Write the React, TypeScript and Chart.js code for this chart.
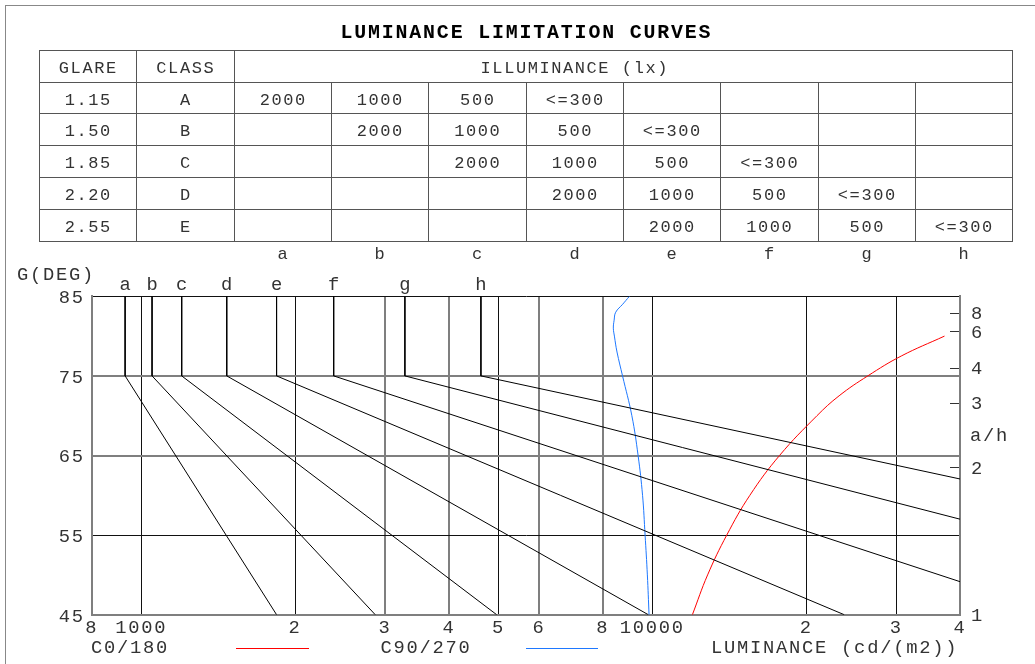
import { useEffect, useRef } from "react";
import { Chart, registerables } from "chart.js";

Chart.register(...registerables);

const FONT_FAMILY = "'Liberation Mono', 'DejaVu Sans Mono', monospace";

// ---------- table data ----------
const glareValues = ["1.15", "1.50", "1.85", "2.20", "2.55"];
const classNames = ["A", "B", "C", "D", "E"];
const illuminanceRows = [
  ["2000", "1000", "500", "<=300", "", "", "", ""],
  ["", "2000", "1000", "500", "<=300", "", "", ""],
  ["", "", "2000", "1000", "500", "<=300", "", ""],
  ["", "", "", "2000", "1000", "500", "<=300", ""],
  ["", "", "", "", "2000", "1000", "500", "<=300"],
];
const curveLetters = ["a", "b", "c", "d", "e", "f", "g", "h"];

// ---------- limitation curves (luminance cd/m2, gamma deg) ----------
const curveTopDeg = 85;
const curveKneeDeg = 75;
const curveKneeLum = [930, 1050, 1200, 1470, 1840, 2380, 3280, 4620];
const curveEndLum = [1840, 2870, 4960, 9820, 23740, 40000, 40000, 40000];
const curveEndDeg = [45, 45, 45, 45, 45, 49.15, 57.0, 62.05];

// ---------- luminaire luminance curves ----------
const c0Deg = [45, 50, 55, 60, 65, 70, 72.5, 75, 77.5, 80];
const c0Lum = [11980, 12830, 13985, 15520, 17740, 21000, 23200, 26400, 30700, 37300];
const c90Deg = [45, 50, 55, 60, 65, 70, 75, 78, 80, 81, 82, 83, 84, 85];
const c90Lum = [9855, 9780, 9680, 9570, 9380, 9120, 8745, 8530, 8430, 8390, 8420, 8480, 8750, 9020];

// ---------- axes ----------
const xTickValues = [800, 1000, 2000, 3000, 4000, 5000, 6000, 8000, 10000, 20000, 30000, 40000];
const xTickLabels = ["8", "1000", "2", "3", "4", "5", "6", "8", "10000", "2", "3", "4"];
const yTickValues = [45, 55, 65, 75, 85];
const ahTickValues = [1, 2, 3, 4, 6, 8];
const ahTickLabels = ["1", "2", "3", "4", "6", "8"];

// style helpers
const AX_SIZE = 18.8;
const AX_LS = 1.74;
const TB_SIZE = 17;
const TB_LS = 1.57;
const TEXT = "#333";
const LINE = "#555";
const SOFT = "#7f7f7f";
const softX = new Set([800, 3000, 4000, 6000, 8000, 40000]);
const softY = new Set([45, 65, 75]);

const decorPlugin = {
  id: "decor",
  beforeDraw(chart: any) {
    (chart.ctx as any).letterSpacing = AX_LS + "px";
  },
  afterDraw(chart: any) {
    const ctx = chart.ctx as CanvasRenderingContext2D;
    const xs = chart.scales.x;
    ctx.save();
    (ctx as any).letterSpacing = AX_LS + "px";
    ctx.font = `${AX_SIZE}px ${FONT_FAMILY}`;
    ctx.fillStyle = TEXT;
    ctx.textAlign = "left";
    ctx.textBaseline = "middle";
    ctx.fillText("G(DEG)", 17, 275);
    ctx.fillText("a/h", 970, 436.5);
    ctx.fillText("C0/180", 91, 648.3);
    ctx.fillText("C90/270", 380.5, 648.3);
    ctx.fillText("LUMINANCE (cd/(m2))", 711, 648.3);
    ctx.textAlign = "center";
    ctx.textBaseline = "alphabetic";
    curveLetters.forEach((l, i) => {
      ctx.fillText(l, xs.getPixelForValue(curveKneeLum[i]) + AX_LS / 2, 290);
    });
    ctx.lineWidth = 1;
    ctx.strokeStyle = "#ff0000";
    ctx.beginPath();
    ctx.moveTo(236, 648.5);
    ctx.lineTo(309, 648.5);
    ctx.stroke();
    ctx.strokeStyle = "rgb(30,120,255)";
    ctx.beginPath();
    ctx.moveTo(526, 648.5);
    ctx.lineTo(598, 648.5);
    ctx.stroke();
    ctx.restore();
  },
};

function buildConfig(): any {
  const datasets: any[] = curveLetters.map((l, i) => ({
    label: l,
    data: [
      { x: curveKneeLum[i], y: curveTopDeg },
      { x: curveKneeLum[i], y: curveKneeDeg },
      { x: curveEndLum[i], y: curveEndDeg[i] },
    ],
    showLine: true,
    borderColor: "#000",
    borderWidth: 1,
    pointRadius: 0,
    tension: 0,
    xAxisID: "x",
    yAxisID: "y",
  }));
  datasets.push({
    label: "C0/180",
    data: c0Deg.map((g, i) => ({ x: c0Lum[i], y: g })),
    showLine: true,
    borderColor: "#ff0000",
    borderWidth: 1,
    pointRadius: 0,
    tension: 0.4,
    xAxisID: "x",
    yAxisID: "y",
  });
  datasets.push({
    label: "C90/270",
    data: c90Deg.map((g, i) => ({ x: c90Lum[i], y: g })),
    showLine: true,
    borderColor: "rgb(30,120,255)",
    borderWidth: 1,
    pointRadius: 0,
    tension: 0.4,
    xAxisID: "x",
    yAxisID: "y",
  });

  const tickFont = { family: FONT_FAMILY, size: AX_SIZE, lineHeight: 1 };

  return {
    type: "scatter",
    data: { datasets },
    options: {
      animation: false,
      responsive: false,
      devicePixelRatio: 1,
      events: [],
      layout: { padding: { top: 296.3, left: 0, right: 0, bottom: 0 } },
      plugins: {
        legend: { display: false },
        tooltip: { enabled: false },
        title: { display: false },
      },
      scales: {
        x: {
          type: "logarithmic",
          position: "bottom",
          min: 800,
          max: 40000,
          afterBuildTicks: (s: any) => {
            s.ticks = xTickValues.map((v) => ({ value: v }));
          },
          afterFit: (s: any) => {
            s.height = 49.3;
          },
          ticks: {
            autoSkip: false,
            maxRotation: 0,
            minRotation: 0,
            padding: 4,
            color: TEXT,
            font: tickFont,
            callback: (_v: any, i: number) => xTickLabels[i],
          },
          grid: {
            color: (c: any) => (softX.has(c.tick?.value) ? SOFT : "#111"),
            lineWidth: (c: any) => (softX.has(c.tick?.value) ? 2 : 1),
            drawTicks: false,
          },
          border: { display: true, color: SOFT, width: 2 },
        },
        y: {
          type: "linear",
          position: "left",
          min: 45,
          max: 85,
          afterBuildTicks: (s: any) => {
            s.ticks = yTickValues.map((v) => ({ value: v }));
          },
          afterFit: (s: any) => {
            s.width = 91.7;
          },
          ticks: {
            autoSkip: false,
            padding: 7,
            labelOffset: 2,
            color: TEXT,
            font: tickFont,
          },
          grid: {
            color: (c: any) => (softY.has(c.tick?.value) ? SOFT : "#111"),
            lineWidth: (c: any) => (softY.has(c.tick?.value) ? 2 : 1),
            drawTicks: false,
          },
          border: { display: true, color: SOFT, width: 2 },
        },
        y2: {
          type: "linear",
          position: "right",
          min: 45,
          max: 85,
          afterBuildTicks: (s: any) => {
            s.ticks = ahTickValues.map((v) => ({ value: (Math.atan(v) * 180) / Math.PI }));
          },
          afterFit: (s: any) => {
            s.width = 75;
          },
          ticks: {
            autoSkip: false,
            padding: 21,
            labelOffset: 1,
            color: TEXT,
            font: tickFont,
            callback: (_v: any, i: number) => ahTickLabels[i],
          },
          grid: {
            drawOnChartArea: false,
            drawTicks: true,
            tickLength: -10,
            color: "#333",
            lineWidth: 1,
          },
          border: { display: true, color: SOFT, width: 2 },
        },
      },
    },
    plugins: [decorPlugin],
  };
}

const COLS = [39, 136, 234, 331, 428, 526, 623, 720, 818, 915, 1012];
const ROWS = [50, 82, 113, 145, 177, 209, 241];

function Cell(props: { x0: number; x1: number; r: number; text: string; key?: any }) {
  const top = ROWS[props.r];
  const h = ROWS[props.r + 1] - top;
  return (
    <div
      style={{
        position: "absolute",
        left: props.x0,
        width: props.x1 - props.x0,
        top: top + 3,
        height: h,
        lineHeight: `${h}px`,
        textAlign: "center",
        whiteSpace: "pre",
        fontSize: TB_SIZE,
        letterSpacing: TB_LS,
        paddingLeft: TB_LS,
        boxSizing: "border-box",
        color: TEXT,
      }}
    >
      {props.text}
    </div>
  );
}

export default function App() {
  const canvasRef = useRef<HTMLCanvasElement | null>(null);

  useEffect(() => {
    const canvas = canvasRef.current;
    if (!canvas) return;
    const chart = new Chart(canvas, buildConfig());
    return () => {
      chart.destroy();
    };
  }, []);

  const lines: any[] = [];
  ROWS.forEach((y, i) => {
    lines.push(
      <div key={"h" + i} style={{ position: "absolute", left: COLS[0], top: y, width: COLS[10] - COLS[0] + 1, height: 1, background: LINE }} />
    );
  });
  COLS.forEach((x, i) => {
    const full = i === 0 || i === 1 || i === 2 || i === 10;
    const top = full ? ROWS[0] : ROWS[1];
    lines.push(
      <div key={"v" + i} style={{ position: "absolute", left: x, top, width: 1, height: ROWS[6] - top + 1, background: LINE }} />
    );
  });

  const cells: any[] = [];
  cells.push(<Cell key="gh" x0={COLS[0]} x1={COLS[1]} r={0} text="GLARE" />);
  cells.push(<Cell key="ch" x0={COLS[1]} x1={COLS[2]} r={0} text="CLASS" />);
  cells.push(<Cell key="ih" x0={COLS[2]} x1={914} r={0} text="ILLUMINANCE (lx)" />);
  glareValues.forEach((g, r) => {
    cells.push(<Cell key={"g" + r} x0={COLS[0]} x1={COLS[1]} r={r + 1} text={g} />);
    cells.push(<Cell key={"c" + r} x0={COLS[1]} x1={COLS[2]} r={r + 1} text={classNames[r]} />);
    illuminanceRows[r].forEach((v, c) => {
      if (v) cells.push(<Cell key={"i" + r + "_" + c} x0={COLS[c + 2]} x1={COLS[c + 3]} r={r + 1} text={v} />);
    });
  });

  return (
    <div
      style={{
        position: "absolute",
        left: 0,
        top: 0,
        width: 1035,
        height: 664,
        overflow: "hidden",
        background: "#fff",
        fontFamily: FONT_FAMILY,
      }}
    >
      <div
        style={{
          position: "absolute",
          left: 5,
          top: 5,
          width: 1200,
          height: 800,
          borderLeft: "1px solid #888",
          borderTop: "1px solid #888",
        }}
      />
      <canvas ref={canvasRef} width={1035} height={664} style={{ position: "absolute", left: 0, top: 0 }} />
      <div
        style={{
          position: "absolute",
          left: COLS[0],
          width: COLS[10] - COLS[0],
          top: 21,
          lineHeight: "24px",
          textAlign: "center",
          fontSize: 19.9,
          fontWeight: "bold",
          letterSpacing: 1.84,
          paddingLeft: 1.84,
          boxSizing: "border-box",
          color: "#000",
        }}
      >
        LUMINANCE LIMITATION CURVES
      </div>
      {lines}
      {cells}
      {curveLetters.map((l, i) => (
        <div
          key={"l" + i}
          style={{
            position: "absolute",
            left: COLS[i + 2],
            width: COLS[i + 3] - COLS[i + 2],
            top: 244.5,
            lineHeight: "20px",
            textAlign: "center",
            fontSize: TB_SIZE,
            letterSpacing: TB_LS,
            paddingLeft: TB_LS,
            boxSizing: "border-box",
            color: TEXT,
          }}
        >
          {l}
        </div>
      ))}
    </div>
  );
}
